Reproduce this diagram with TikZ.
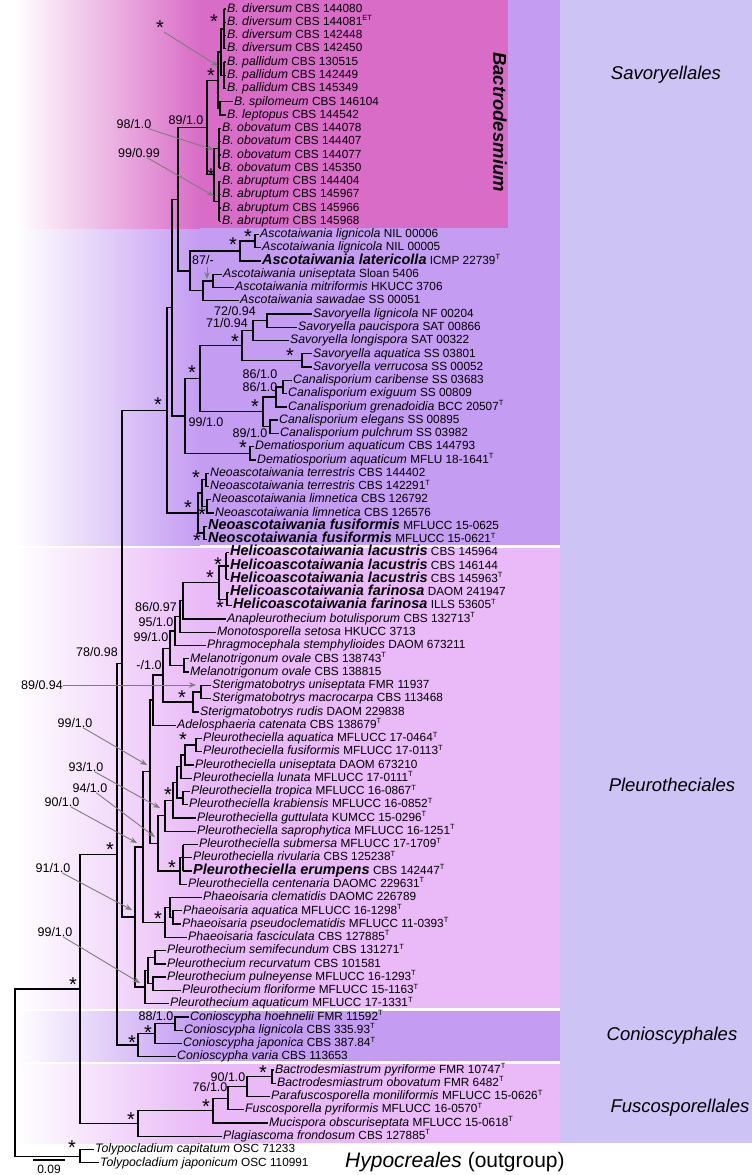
\documentclass[tikz,border=0pt]{standalone}
\usepackage{fontspec}
\setmainfont{Liberation Sans}
\usetikzlibrary{arrows.meta,calc}
\definecolor{magc}{RGB}{217,108,199}
\definecolor{savc}{RGB}{196,156,242}
\definecolor{plec}{RGB}{233,186,247}
\definecolor{colc}{RGB}{205,195,245}
\definecolor{arrc}{RGB}{125,125,125}
\newcommand\fz[1]{\fontsize{#1}{#1}\selectfont}
\newcommand\sups[1]{\raisebox{4.6pt}{\fz{7.5}#1}}
\newcommand\tipl[4]{\pgfmathsetmacro\tipy{9+(#1-1)*13.262}\pgfmathsetmacro\tipx{#2-1.5}\node[tiplab] (t#1) at (\tipx,\tipy) {{\itshape\fz{12.3}#3} {\fz{11.8}#4}};}
\newcommand\btipl[4]{\pgfmathsetmacro\tipy{9+(#1-1)*13.262}\pgfmathsetmacro\tipx{#2-1.5}\node[tiplab] (t#1) at (\tipx,\tipy) {{\bfseries\itshape\fz{14.5}#3} {\fz{11.8}#4}};}
\newcommand\inod[4]{\path let \p1=($(#3)!0.5!(#4)$) in coordinate (#1) at (#2pt,\y1);\draw[br] (#3) -| (#1) |- (#4);}
\newcommand\astar[3]{\node[astk] (#1) at (#2,#3) {*};}
\newcommand\suppl[4]{\node[supp] (#1) at (#2,#3) {#4};}
\begin{document}
\begin{tikzpicture}[x=1pt,y=-1pt,
  br/.style={line width=1.3pt},
  cbar/.style={line width=2.6pt},
  tiplab/.style={anchor=west,inner xsep=1.5pt,inner ysep=0pt,text height=9pt,text depth=2.6pt,font=\fz{12}},
  astk/.style={inner sep=0pt,text height=10pt,text depth=0pt,yshift=-6.5pt,font=\fz{20}},
  supp/.style={inner sep=0pt,text height=9pt,text depth=0pt,font=\fz{12.5}},
  garr/.style={draw=arrc,line width=0.9pt,-{Stealth[length=7pt,width=5.5pt]}},
  clade/.style={inner sep=0pt,font=\itshape\fz{18.5}}]
\useasboundingbox (0,0) rectangle (752,1175);
% backgrounds
\fill[colc] (560,0) rectangle (752,1143);
\shade[left color=white,right color=savc] (15,0) rectangle (200,545);
\fill[savc] (199.5,0) rectangle (560,545);
\shade[left color=white,right color=plec] (15,548) rectangle (200,1008);
\fill[plec] (199.5,548) rectangle (560,1008);
\shade[left color=white,right color=savc] (15,1011) rectangle (200,1061);
\fill[savc] (199.5,1011) rectangle (560,1061);
\shade[left color=white,right color=plec] (15,1064) rectangle (200,1143);
\fill[plec] (199.5,1064) rectangle (560,1143);
\shade[left color=white,right color=magc] (15,0) rectangle (200,228);
\fill[magc] (199.5,0) rectangle (508,228);
% tips
\tipl{1}{227}{B. diversum}{CBS 144080}
\tipl{2}{227}{B. diversum}{CBS 144081\sups{ET}}
\tipl{3}{227}{B. diversum}{CBS 142448}
\tipl{4}{227}{B. diversum}{CBS 142450}
\tipl{5}{227}{B. pallidum}{CBS 130515}
\tipl{6}{227}{B. pallidum}{CBS 142449}
\tipl{7}{227}{B. pallidum}{CBS 145349}
\tipl{8}{234}{B. spilomeum}{CBS 146104}
\tipl{9}{227}{B. leptopus}{CBS 144542}
\tipl{10}{222}{B. obovatum}{CBS 144078}
\tipl{11}{222}{B. obovatum}{CBS 144407}
\tipl{12}{222}{B. obovatum}{CBS 144077}
\tipl{13}{222}{B. obovatum}{CBS 145350}
\tipl{14}{222}{B. abruptum}{CBS 144404}
\tipl{15}{222}{B. abruptum}{CBS 145967}
\tipl{16}{222}{B. abruptum}{CBS 145966}
\tipl{17}{222}{B. abruptum}{CBS 145968}
\tipl{18}{260}{Ascotaiwania lignicola}{NIL 00006}
\tipl{19}{262}{Ascotaiwania lignicola}{NIL 00005}
\btipl{20}{262}{Ascotaiwania latericolla}{ICMP 22739\sups{T}}
\tipl{21}{223}{Ascotaiwania uniseptata}{Sloan 5406}
\tipl{22}{235}{Ascotaiwania mitriformis}{HKUCC 3706}
\tipl{23}{240}{Ascotaiwania sawadae}{SS 00051}
\tipl{24}{313}{Savoryella lignicola}{NF 00204}
\tipl{25}{298}{Savoryella paucispora}{SAT 00866}
\tipl{26}{290}{Savoryella longispora}{SAT 00322}
\tipl{27}{313}{Savoryella aquatica}{SS 03801}
\tipl{28}{313}{Savoryella verrucosa}{SS 00052}
\tipl{29}{293}{Canalisporium caribense}{SS 03683}
\tipl{30}{288}{Canalisporium exiguum}{SS 00809}
\tipl{31}{288}{Canalisporium grenadoidia}{BCC 20507\sups{T}}
\tipl{32}{279}{Canalisporium elegans}{SS 00895}
\tipl{33}{280}{Canalisporium pulchrum}{SS 03982}
\tipl{34}{255}{Dematiosporium aquaticum}{CBS 144793}
\tipl{35}{257}{Dematiosporium aquaticum}{MFLU 18-1641\sups{T}}
\tipl{36}{210}{Neoascotaiwania terrestris}{CBS 144402}
\tipl{37}{210}{Neoascotaiwania terrestris}{CBS 142291\sups{T}}
\tipl{38}{212}{Neoascotaiwania limnetica}{CBS 126792}
\tipl{39}{215}{Neoascotaiwania limnetica}{CBS 126576}
\btipl{40}{208}{Neoascotaiwania fusiformis}{MFLUCC 15-0625}
\btipl{41}{208}{Neoscotaiwania fusiformis}{MFLUCC 15-0621\sups{T}}
\btipl{42}{230}{Helicoascotaiwania lacustris}{CBS 145964}
\btipl{43}{230}{Helicoascotaiwania lacustris}{CBS 146144}
\btipl{44}{230}{Helicoascotaiwania lacustris}{CBS 145963\sups{T}}
\btipl{45}{230}{Helicoascotaiwania farinosa}{DAOM 241947}
\btipl{46}{233}{Helicoascotaiwania farinosa}{ILLS 53605\sups{T}}
\tipl{47}{227}{Anapleurothecium botulisporum}{CBS 132713\sups{T}}
\tipl{48}{217}{Monotosporella setosa}{HKUCC 3713}
\tipl{49}{207}{Phragmocephala stemphylioides}{DAOM 673211}
\tipl{50}{190}{Melanotrigonum ovale}{CBS 138743\sups{T}}
\tipl{51}{190}{Melanotrigonum ovale}{CBS 138815}
\tipl{52}{212}{Sterigmatobotrys uniseptata}{FMR 11937}
\tipl{53}{212}{Sterigmatobotrys macrocarpa}{CBS 113468}
\tipl{54}{200}{Sterigmatobotrys rudis}{DAOM 229838}
\tipl{55}{177}{Adelosphaeria catenata}{CBS 138679\sups{T}}
\tipl{56}{203}{Pleurotheciella aquatica}{MFLUCC 17-0464\sups{T}}
\tipl{57}{203}{Pleurotheciella fusiformis}{MFLUCC 17-0113\sups{T}}
\tipl{58}{195}{Pleurotheciella uniseptata}{DAOM 673210}
\tipl{59}{193}{Pleurotheciella lunata}{MFLUCC 17-0111\sups{T}}
\tipl{60}{191}{Pleurotheciella tropica}{MFLUCC 16-0867\sups{T}}
\tipl{61}{189}{Pleurotheciella krabiensis}{MFLUCC 16-0852\sups{T}}
\tipl{62}{197}{Pleurotheciella guttulata}{KUMCC 15-0296\sups{T}}
\tipl{63}{197}{Pleurotheciella saprophytica}{MFLUCC 16-1251\sups{T}}
\tipl{64}{199}{Pleurotheciella submersa}{MFLUCC 17-1709\sups{T}}
\tipl{65}{193}{Pleurotheciella rivularia}{CBS 125238\sups{T}}
\btipl{66}{193}{Pleurotheciella erumpens}{CBS 142447\sups{T}}
\tipl{67}{188}{Pleurotheciella centenaria}{DAOMC 229631\sups{T}}
\tipl{68}{203}{Phaeoisaria clematidis}{DAOMC 226789}
\tipl{69}{183}{Phaeoisaria aquatica}{MFLUCC 16-1298\sups{T}}
\tipl{70}{182}{Phaeoisaria pseudoclematidis}{MFLUCC 11-0393\sups{T}}
\tipl{71}{188}{Phaeoisaria fasciculata}{CBS 127885\sups{T}}
\tipl{72}{167}{Pleurothecium semifecundum}{CBS 131271\sups{T}}
\tipl{73}{167}{Pleurothecium recurvatum}{CBS 101581}
\tipl{74}{167}{Pleurothecium pulneyense}{MFLUCC 16-1293\sups{T}}
\tipl{75}{182}{Pleurothecium floriforme}{MFLUCC 15-1163\sups{T}}
\tipl{76}{170}{Pleurothecium aquaticum}{MFLUCC 17-1331\sups{T}}
\tipl{77}{190}{Conioscypha hoehnelii}{FMR 11592\sups{T}}
\tipl{78}{184}{Conioscypha lignicola}{CBS 335.93\sups{T}}
\tipl{79}{183}{Conioscypha japonica}{CBS 387.84\sups{T}}
\tipl{80}{177}{Conioscypha varia}{CBS 113653}
\tipl{81}{275}{Bactrodesmiastrum pyriforme}{FMR 10747\sups{T}}
\tipl{82}{277}{Bactrodesmiastrum obovatum}{FMR 6482\sups{T}}
\tipl{83}{271}{Parafuscosporella moniliformis}{MFLUCC 15-0626\sups{T}}
\tipl{84}{245}{Fuscosporella pyriformis}{MFLUCC 16-0570\sups{T}}
\tipl{85}{269}{Mucispora obscuriseptata}{MFLUCC 15-0618\sups{T}}
\tipl{86}{223}{Plagiascoma frondosum}{CBS 127885\sups{T}}
\tipl{87}{95}{Tolypocladium capitatum}{OSC 71233}
\tipl{88}{100}{Tolypocladium japonicum}{OSC 110991}
% Bactrodesmium combs
\coordinate (bd1) at (224,28.9);
\draw[cbar] (bd1 |- t1.west) -- (bd1 |- t4.west);
\foreach \i in {1,...,4} \draw[br] (bd1 |- t\i.west) -- (t\i.west);
\coordinate (bp1) at (224,75.3);
\draw[cbar] (bp1 |- t5.west) -- (bp1 |- t7.west);
\foreach \i in {5,...,7} \draw[br] (bp1 |- t\i.west) -- (t\i.west);
\coordinate (bo) at (219,148.3);
\draw[cbar] (bo |- t10.west) -- (bo |- t13.west);
\foreach \i in {10,...,13} \draw[br] (bo |- t\i.west) -- (t\i.west);
\coordinate (ba) at (219,201.3);
\draw[cbar] (ba |- t14.west) -- (ba |- t17.west);
\foreach \i in {14,...,17} \draw[br] (ba |- t\i.west) -- (t\i.west);
\inod{B1}{221}{bd1}{bp1}
\inod{B3}{220}{t8.west}{t9.west}
\inod{B2}{218}{B1}{B3}
\inod{L}{214}{bo}{ba}
\inod{N89}{207}{B2}{L}
\inod{As1}{255}{t18.west}{t19.west}
\inod{As2}{240}{As1}{t20.west}
\inod{As3}{213}{t21.west}{t22.west}
\inod{As4}{203}{As3}{t23.west}
\inod{As5}{190}{As2}{As4}
\inod{N178}{178}{N89}{As5}
\inod{Sv72}{267}{t24.west}{t25.west}
\inod{Sv71}{253}{Sv72}{t26.west}
\inod{SvAV}{302}{t27.west}{t28.west}
\inod{Sv}{242}{Sv71}{SvAV}
\inod{CaA}{283}{t29.west}{t30.west}
\inod{CaB}{276}{CaA}{t31.west}
\inod{CaD}{270}{t32.west}{t33.west}
\inod{Ca}{263}{CaB}{CaD}
\inod{N200}{200}{Sv}{Ca}
\inod{Dm}{250}{t34.west}{t35.west}
\inod{N185}{185}{N200}{Dm}
\inod{N172}{172}{N178}{N185}
\inod{Nt}{206}{t36.west}{t37.west}
\inod{Nl}{207}{t38.west}{t39.west}
\inod{NA}{202}{Nt}{Nl}
\inod{Nf}{204}{t40.west}{t41.west}
\inod{Neo}{198}{NA}{Nf}
\inod{N167}{167}{N172}{Neo}
% Pleurotheciales
\coordinate (Hl) at (226,566);
\draw[cbar] (Hl |- t42.west) -- (Hl |- t44.west);
\foreach \i in {42,...,44} \draw[br] (Hl |- t\i.west) -- (t\i.west);
\inod{Hf}{227}{t45.west}{t46.west}
\inod{H}{219}{Hl}{Hf}
\inod{N86}{183}{H}{t47.west}
\inod{N95}{180}{N86}{t48.west}
\inod{N99}{175}{N95}{t49.west}
\inod{M}{184}{t50.west}{t51.west}
\inod{N170}{170}{N99}{M}
\inod{SgA}{201}{t52.west}{t53.west}
\inod{Sg}{193}{SgA}{t54.west}
\inod{N163}{163}{N170}{Sg}
\inod{N153}{153}{N163}{t55.west}
\inod{P1}{196}{t56.west}{t57.west}
\inod{P2}{185}{P1}{t58.west}
\inod{P3}{181}{P2}{t59.west}
\inod{P4}{183}{t60.west}{t61.west}
\inod{P6}{177}{P3}{P4}
\inod{P7}{173}{P6}{t62.west}
\inod{P8}{165}{P7}{t63.west}
\coordinate (P9) at (183,857.7);
\draw[br] (P9 |- t64.west) -- (P9 |- t66.west);
\draw[cbar] (P9 |- t65.west) -- (P9 |- t66.west);
\foreach \i in {64,...,66} \draw[br] (P9 |- t\i.west) -- (t\i.west);
\inod{P10}{180}{P9}{t67.west}
\inod{P11}{158}{P8}{P10}
\inod{Na}{150}{N153}{P11}
\inod{Ph1}{173}{t69.west}{t70.west}
\inod{Ph2}{170}{t68.west}{Ph1}
\inod{Ph3}{165}{Ph2}{t71.west}
\inod{N90}{143}{Na}{Ph3}
\inod{Pt1}{155}{t72.west}{t73.west}
\inod{Pt2}{153}{t74.west}{t75.west}
\inod{Pt3}{148}{Pt1}{Pt2}
\inod{Pt4}{145}{Pt3}{t76.west}
\inod{C}{135}{N90}{Pt4}
\inod{Q}{122}{N167}{C}
\inod{Co3}{175}{t77.west}{t78.west}
\inod{Co2}{155}{Co3}{t79.west}
\inod{Co}{138}{Co2}{t80.west}
\inod{P}{117}{Q}{Co}
\inod{F5}{272}{t81.west}{t82.west}
\inod{F4}{247}{F5}{t83.west}
\inod{F3}{228}{F4}{t84.west}
\inod{F2}{213}{F3}{t85.west}
\inod{F1}{138}{F2}{t86.west}
\inod{I}{80}{P}{F1}
\inod{Tol}{80}{t87.west}{t88.west}
\inod{R}{15}{I}{Tol}
% asterisks
\astar{s1}{160}{23}
\astar{s2}{214}{17}
\astar{s3}{211}{71}
\astar{s4}{211}{171}
\astar{s5}{248}{232}
\astar{s6}{233}{240}
\astar{s7}{235}{337}
\astar{s8}{290}{351}
\astar{s9}{192}{368}
\astar{s10}{255}{402}
\astar{s11}{243}{443}
\astar{s12}{158}{400}
\astar{s13}{196}{473}
\astar{s14}{188}{503}
\astar{s15}{202}{510}
\astar{s16}{197}{536}
\astar{s17}{218}{560}
\astar{s18}{210}{573}
\astar{s19}{220}{603}
\astar{s20}{182}{693}
\astar{s21}{183}{735}
\astar{s22}{168}{790}
\astar{s23}{110}{845}
\astar{s24}{172}{863}
\astar{s25}{158}{914}
\astar{s26}{73}{980}
\astar{s27}{148}{1028}
\astar{s28}{132}{1038}
\astar{s29}{263}{1068}
\astar{s30}{206}{1102}
\astar{s31}{131}{1115}
\astar{s32}{72}{1143}
% support values
\suppl{v1}{186}{120}{89/1.0}
\suppl{v2}{134}{124}{98/1.0}
\suppl{v3}{139}{153}{99/0.99}
\suppl{v4}{203}{260}{87/-}
\suppl{v5}{235}{311}{72/0.94}
\suppl{v6}{227}{323}{71/0.94}
\suppl{v7}{260}{374}{86/1.0}
\suppl{v8}{260}{387}{86/1.0}
\suppl{v9}{206}{422}{99/1.0}
\suppl{v10}{250}{433}{89/1.0}
\suppl{v11}{156}{607}{86/0.97}
\suppl{v12}{156}{622}{95/1.0}
\suppl{v13}{151}{637}{99/1.0}
\suppl{v14}{97}{652}{78/0.98}
\suppl{v15}{149}{665}{-/1.0}
\suppl{v16}{42}{685}{89/0.94}
\suppl{v17}{75}{723}{99/1.0}
\suppl{v18}{86}{767}{93/1.0}
\suppl{v19}{90}{788}{94/1.0}
\suppl{v20}{62}{802}{90/1.0}
\suppl{v21}{53}{868}{91/1.0}
\suppl{v22}{55}{932}{99/1.0}
\suppl{v23}{156}{1016}{88/1.0}
\suppl{v24}{228}{1077}{90/1.0}
\suppl{v25}{210}{1087}{76/1.0}
% grey arrows
\coordinate (a1) at (218,66);
\coordinate (a2) at (214,150);
\coordinate (a3) at (214,196);
\coordinate (a4s) at (207,267);
\coordinate (a4) at (207,279);
\coordinate (a16) at (196,685);
\coordinate (a17) at (147,765);
\coordinate (a18) at (160,808);
\coordinate (a19) at (155,837);
\coordinate (a20) at (137,843);
\coordinate (a21) at (132,910);
\coordinate (a22) at (140,983);
\draw[garr] (s1) -- (a1);
\draw[garr] (v2) -- (a2);
\draw[garr] (v3) -- (a3);
\draw[garr] (a4s) -- (a4);
\draw[garr] (v16) -- (a16);
\draw[garr] (v17) -- (a17);
\draw[garr] (v18) -- (a18);
\draw[garr] (v19) -- (a19);
\draw[garr] (v20) -- (a20);
\draw[garr] (v21) -- (a21);
\draw[garr] (v22) -- (a22);
% scale bar
\coordinate (sb1) at (33,1160);
\coordinate (sb2) at (65,1160);
\draw[br] (sb1) -- (sb2);
\node[supp,text height=8.5pt,font=\fz{12}] (sbl) at (49,1169.5) {0.09};
% clade labels
\node[inner sep=0pt,rotate=-90,font=\bfseries\itshape\fz{18.5}] (cbac) at (500,122) {Bactrodesmium};
\node[clade] (c1) at (666,75) {Savoryellales};
\node[clade] (c2) at (672,785) {Pleurotheciales};
\node[clade] (c3) at (672,1036) {Conioscyphales};
\node[clade] (c4) at (680,1108) {Fuscosporellales};
\node[clade,anchor=west,font=\itshape\fz{21}] (c5) at (345,1162) {Hypocreales \upshape(outgroup)};
\end{tikzpicture}
\end{document}
